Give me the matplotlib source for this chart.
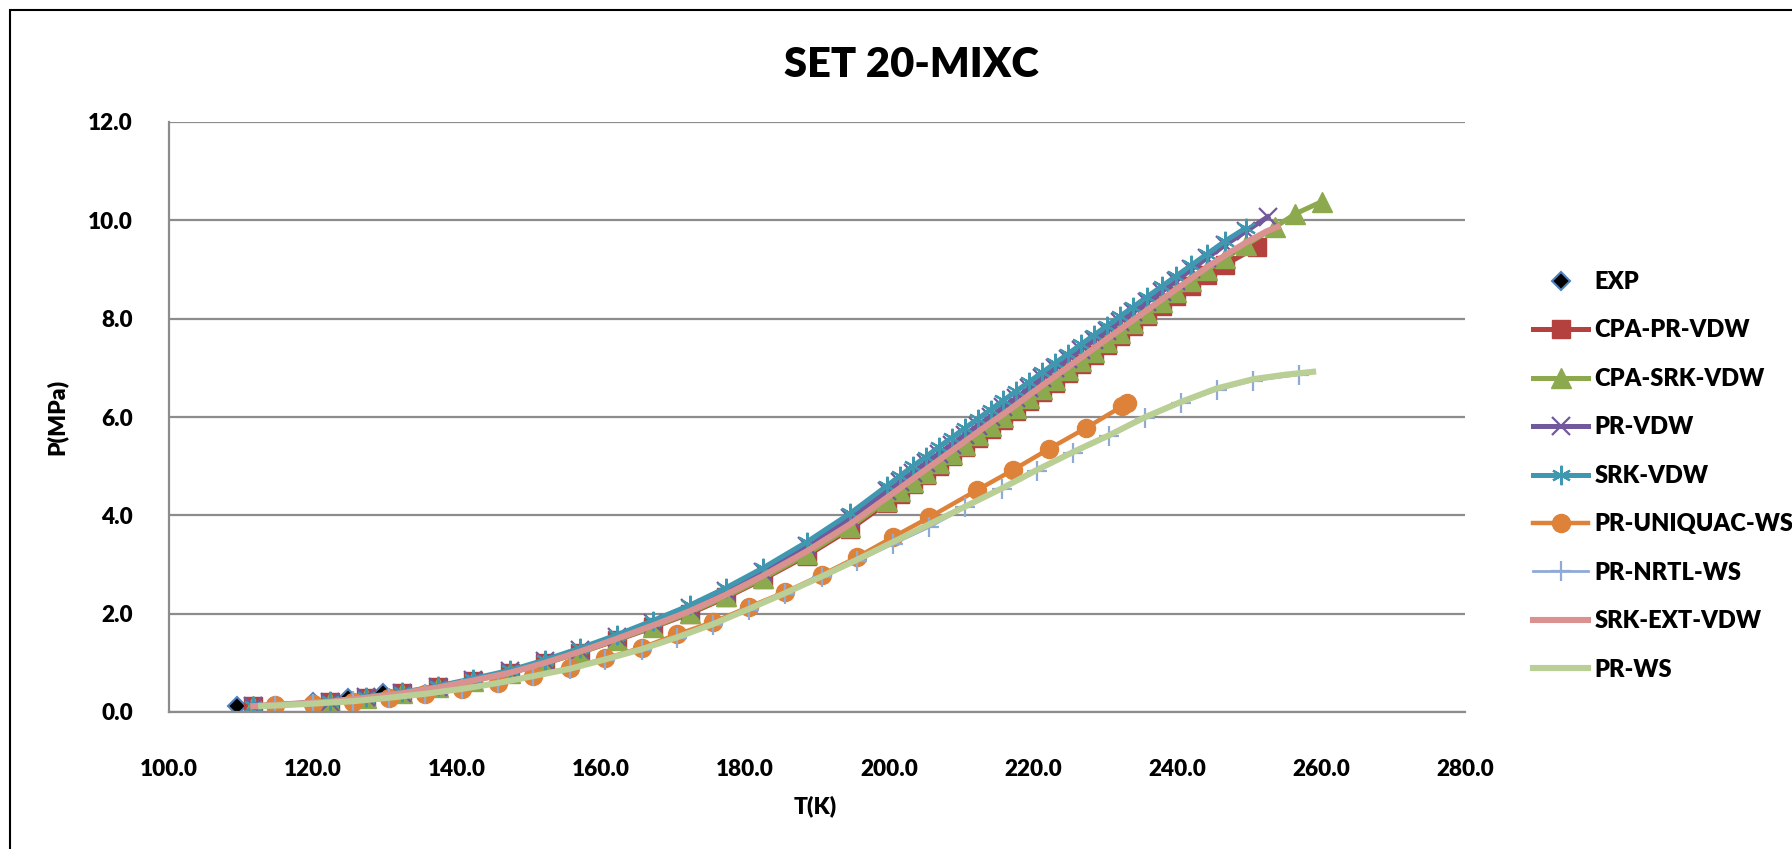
import matplotlib
matplotlib.use("Agg")
import matplotlib.pyplot as plt
from matplotlib.patches import Rectangle
from matplotlib.ticker import MultipleLocator, FormatStrFormatter

plt.rcParams['font.family'] = ['Lato', 'DejaVu Sans']
plt.rcParams['font.weight'] = 'heavy'

# experimental points
t_exp = [109.4, 120.0, 124.9, 129.7]
p_exp = [0.12, 0.21, 0.29, 0.38]

# common temperature grid of the VDW-type models
t_main = [111.7, 122.4, 127.4, 132.3, 137.4, 142.2, 147.4, 152.2, 157.1, 162.2,
          167.2, 172.3, 177.4, 182.5, 188.6, 194.6, 199.7, 201.5, 203.3, 205.1,
          206.9, 208.7, 210.5, 212.3, 214.1, 215.9, 217.7, 219.5, 221.3, 223.1,
          224.9, 226.7, 228.5, 230.3, 232.1, 233.9, 235.9, 237.9, 239.9, 242.0,
          244.2, 246.7, 249.6]

t_cpa_pr = t_main[:42] + [251.1]
p_cpa_pr = [0.12, 0.21, 0.29, 0.38, 0.50, 0.64, 0.80, 0.99, 1.21, 1.46,
            1.72, 2.00, 2.33, 2.70, 3.18, 3.72, 4.25, 4.44, 4.63, 4.82,
            5.01, 5.20, 5.39, 5.57, 5.76, 5.94, 6.13, 6.32, 6.51, 6.70,
            6.89, 7.08, 7.27, 7.46, 7.65, 7.85, 8.05, 8.25, 8.46, 8.67,
            8.89, 9.10, 9.46]

t_cpa_srk = t_main + [253.6, 256.4, 260.1]
p_cpa_srk = [0.12, 0.21, 0.29, 0.38, 0.50, 0.64, 0.80, 0.99, 1.21, 1.47,
             1.73, 2.02, 2.35, 2.72, 3.21, 3.76, 4.30, 4.49, 4.68, 4.87,
             5.06, 5.25, 5.44, 5.63, 5.82, 6.00, 6.19, 6.38, 6.57, 6.76,
             6.95, 7.14, 7.33, 7.52, 7.71, 7.91, 8.12, 8.33, 8.54, 8.76,
             8.99, 9.23, 9.50, 9.86, 10.13, 10.38]

t_pr_vdw = t_main + [252.6]
p_pr_vdw = [0.12, 0.21, 0.30, 0.39, 0.51, 0.66, 0.83, 1.03, 1.26, 1.53,
            1.81, 2.11, 2.46, 2.85, 3.37, 3.94, 4.49, 4.68, 4.87, 5.06,
            5.25, 5.44, 5.63, 5.82, 6.01, 6.20, 6.39, 6.59, 6.79, 6.99,
            7.18, 7.37, 7.56, 7.75, 7.94, 8.13, 8.34, 8.55, 8.77, 9.00,
            9.24, 9.50, 9.78, 10.07]

t_srk_vdw = t_main
p_srk_vdw = [0.12, 0.22, 0.31, 0.40, 0.53, 0.68, 0.85, 1.06, 1.30, 1.57,
             1.86, 2.17, 2.53, 2.93, 3.46, 4.04, 4.60, 4.80, 5.00, 5.19,
             5.39, 5.58, 5.77, 5.96, 6.15, 6.34, 6.53, 6.72, 6.91, 7.10,
             7.29, 7.48, 7.67, 7.86, 8.05, 8.24, 8.45, 8.66, 8.87, 9.09,
             9.32, 9.58, 9.85]

t_uniquac = [114.7, 120.0, 125.6, 130.6, 135.6, 140.7, 145.7, 150.6, 155.7, 160.6,
             165.7, 170.6, 175.6, 180.6, 185.6, 190.7, 195.6, 200.6, 205.6, 212.2,
             217.2, 222.2, 227.4, 232.4, 233.0]
p_uniquac = [0.14, 0.17, 0.21, 0.28, 0.37, 0.47, 0.59, 0.74, 0.89, 1.09,
             1.31, 1.58, 1.83, 2.14, 2.44, 2.79, 3.15, 3.56, 3.96, 4.51,
             4.92, 5.35, 5.78, 6.22, 6.28]

t_nrtl = [114.7, 120.0, 125.6, 130.6, 135.6, 140.7, 145.7, 150.6, 155.7, 160.6,
          165.7, 170.6, 175.6, 180.6, 185.6, 190.7, 195.6, 200.6, 205.6, 210.6,
          215.7, 220.5, 225.6, 230.6, 235.6, 240.6, 245.5, 250.6, 256.9]
p_nrtl = [0.13, 0.17, 0.22, 0.29, 0.37, 0.47, 0.59, 0.73, 0.88, 1.06,
          1.27, 1.50, 1.77, 2.08, 2.40, 2.74, 3.07, 3.42, 3.76, 4.16,
          4.53, 4.90, 5.27, 5.62, 5.97, 6.29, 6.55, 6.74, 6.86]

t_srk_ext = t_main + [252.5, 254.0]
p_srk_ext = [0.12, 0.21, 0.29, 0.38, 0.50, 0.64, 0.80, 1.00, 1.23, 1.49,
             1.76, 2.05, 2.39, 2.77, 3.27, 3.82, 4.36, 4.55, 4.74, 4.93,
             5.12, 5.31, 5.50, 5.69, 5.88, 6.06, 6.25, 6.45, 6.64, 6.83,
             7.02, 7.21, 7.40, 7.59, 7.78, 7.97, 8.18, 8.39, 8.60, 8.82,
             9.05, 9.29, 9.55, 9.78, 9.87]

t_pr_ws = [112.8, 114.7, 120.0, 125.6, 130.6, 135.6, 140.7, 145.7, 150.6, 155.7,
           160.6, 165.7, 170.6, 175.6, 180.6, 185.6, 190.7, 195.6, 200.6, 205.6,
           210.6, 215.7, 220.5, 225.6, 230.6, 235.6, 240.6, 245.5, 250.6, 255.0,
           258.9]
p_pr_ws = [0.12, 0.13, 0.17, 0.22, 0.29, 0.37, 0.47, 0.59, 0.73, 0.88,
           1.07, 1.28, 1.52, 1.79, 2.10, 2.42, 2.76, 3.10, 3.46, 3.82,
           4.18, 4.55, 4.92, 5.29, 5.63, 6.00, 6.31, 6.58, 6.77, 6.86,
           6.92]

W, H = 1792, 849
fig = plt.figure(figsize=(W / 100, H / 100), dpi=100)
ax = fig.add_axes([169 / W, 1 - 712 / H, (1465 - 169) / W, (712 - 122) / H])

lw = 3.6
ax.plot(t_exp, p_exp, ls='none', marker='D', ms=9.5, mfc='black', mec='#4F81BD',
        mew=1.5, label='EXP')
ax.plot(t_cpa_pr, p_cpa_pr, color='#B4413E', lw=lw, marker='s', ms=13, mec='#B4413E',
        label='CPA-PR-VDW')
ax.plot(t_cpa_srk, p_cpa_srk, color='#8CAA4D', lw=lw, marker='^', ms=15, mec='#8CAA4D',
        label='CPA-SRK-VDW')
ax.plot(t_pr_vdw, p_pr_vdw, color='#72599C', lw=lw, marker='x', ms=13, mew=1.6,
        label='PR-VDW')
ax.plot(t_srk_vdw, p_srk_vdw, color='#3F98B0', lw=lw, marker=(6, 2, 0), ms=14, mew=1.6,
        label='SRK-VDW')
ax.plot(t_uniquac, p_uniquac, color='#DE823A', lw=3.2, marker='o', ms=13, mec='#DE823A',
        label='PR-UNIQUAC-WS')
ax.plot(t_nrtl, p_nrtl, color='#8FAAD6', lw=2.0, marker='+', ms=14, mew=1.6,
        label='PR-NRTL-WS')
ax.plot(t_srk_ext, p_srk_ext, color='#D9928F', lw=4.4, label='SRK-EXT-VDW')
ax.plot(t_pr_ws, p_pr_ws, color='#B9CF95', lw=4.4, label='PR-WS')

ax.set_xlim(100, 280)
ax.set_ylim(0, 12)
ax.xaxis.set_major_locator(MultipleLocator(20))
ax.yaxis.set_major_locator(MultipleLocator(2))
ax.xaxis.set_major_formatter(FormatStrFormatter('%.1f'))
ax.yaxis.set_major_formatter(FormatStrFormatter('%.1f'))
ax.grid(axis='y', color='#8C8C8C', lw=1.6)
ax.set_axisbelow(True)
for side in ['top', 'right']:
    ax.spines[side].set_visible(False)
for side in ['left', 'bottom']:
    ax.spines[side].set_color('#8C8C8C')
    ax.spines[side].set_linewidth(1.6)
ax.tick_params(length=0, labelsize=16.2)
ax.tick_params(axis='x', pad=34)
ax.tick_params(axis='y', pad=26)
for lab in ax.get_xticklabels() + ax.get_yticklabels():
    lab.set_fontweight('heavy')

fig.text(911 / W, 1 - 65 / H, 'SET 20-MIXC', ha='center', va='center',
         fontsize=30, fontweight='heavy')
fig.text(815 / W, 1 - 806 / H, 'T(K)', ha='center', va='center',
         fontsize=16.5, fontweight='heavy')
fig.text(57 / W, 1 - 417 / H, 'P(MPa)', ha='center', va='center',
         fontsize=16.5, fontweight='heavy', rotation=90)

leg = ax.legend(loc='upper left', bbox_to_anchor=(1533 / W, 1 - 271 / H),
                bbox_transform=fig.transFigure, frameon=False, fontsize=17,
                handlelength=2.35, handletextpad=0.25, labelspacing=1.12,
                borderpad=0, borderaxespad=0)
for txt in leg.get_texts():
    txt.set_fontweight('heavy')

# outer chart border (only top and left edges fall inside the picture)
fig.add_artist(Rectangle((10 / W, -0.1), 1.2, 1.1 - 10 / H, transform=fig.transFigure,
                         fill=False, ec='black', lw=1.5))

fig.savefig('out.png', dpi=100)
